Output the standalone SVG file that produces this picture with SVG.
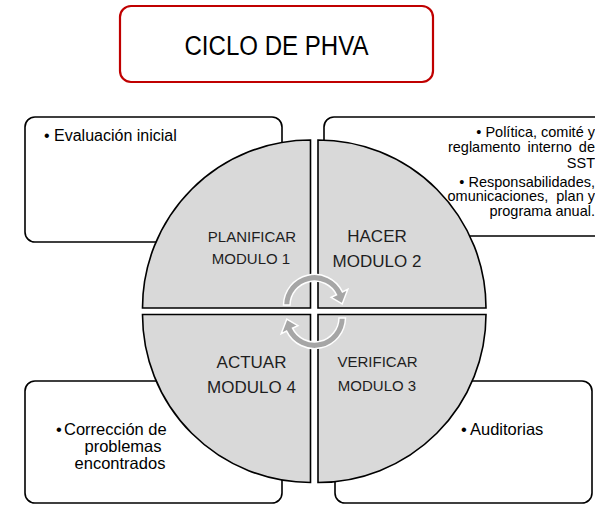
<svg xmlns="http://www.w3.org/2000/svg" width="595" height="505" viewBox="0 0 595 505">
<style>
.box{fill:#fff;stroke:#000;stroke-width:1.6}
.q{fill:#d9d9d9;stroke:#000;stroke-width:1.6;stroke-linejoin:miter}
.t{font-family:"Liberation Sans",Arial,sans-serif;fill:#000}
.lbl{font-family:"Liberation Sans",Arial,sans-serif;fill:#1e1e1e;text-anchor:middle}
.arr{fill:#a6a6a6;stroke:#fff;stroke-width:1.5;stroke-linejoin:miter}
</style>
<rect width="595" height="505" fill="#fff"/>
<g id="title">
<rect x="120" y="6" width="313" height="76" rx="11" fill="#fff" stroke="#c00000" stroke-width="2.2"/>
<text x="276.5" y="55" class="t" font-size="27" text-anchor="middle" textLength="184" lengthAdjust="spacingAndGlyphs">CICLO DE PHVA</text>
</g>
<g id="box-planificar">
<rect class="box" x="25" y="117" width="257" height="125" rx="10"/>
<text class="t" x="44" y="141" font-size="16">• Evaluación inicial</text>
</g>
<g id="box-hacer">
<rect class="box" x="324" y="117" width="290" height="119" rx="10"/>
<g class="t" font-size="14.5" text-anchor="end">
<text x="595" y="137">• Política, comité y</text>
<text x="595" y="151.5" word-spacing="3">reglamento interno de</text>
<text x="595" y="167.5">SST</text>
<text x="595" y="186.5">• Responsabilidades,</text>
<text x="595" y="201" xml:space="preserve">omunicaciones,  plan y</text>
<text x="595" y="215.5">programa anual.</text>
</g>
</g>
<g id="box-actuar">
<rect class="box" x="25" y="381" width="257" height="122" rx="10"/>
<g class="t" font-size="16.5">
<text x="56" y="435">•<tspan x="64">Corrección de</tspan></text>
<text x="123" y="452" text-anchor="middle">problemas</text>
<text x="120" y="469" text-anchor="middle">encontrados</text>
</g>
</g>
<g id="box-verificar">
<rect class="box" x="335" y="381" width="257" height="122" rx="10"/>
<text class="t" x="461" y="435" font-size="16.5">•<tspan x="470">Auditorias</tspan></text>
</g>
<g id="planificar">
<path class="q" d="M310.5 308 L142.5 308 A168 168 0 0 1 310.5 140 Z"/>
<text class="lbl" x="252" y="242" font-size="15">PLANIFICAR</text>
<text class="lbl" x="251" y="264" font-size="15">MODULO 1</text>
</g>
<g id="hacer">
<path class="q" d="M318 308 L318 140 A168 168 0 0 1 486 308 Z"/>
<text class="lbl" x="377" y="242" font-size="17">HACER</text>
<text class="lbl" x="377" y="267" font-size="17">MODULO 2</text>
</g>
<g id="verificar">
<path class="q" d="M318 314.5 L486 314.5 A168 168 0 0 1 318 482.5 Z"/>
<text class="lbl" x="377.5" y="367" font-size="15">VERIFICAR</text>
<text class="lbl" x="377" y="391" font-size="15">MODULO 3</text>
</g>
<g id="actuar">
<path class="q" d="M310.5 314.5 L310.5 482.5 A168 168 0 0 1 142.5 314.5 Z"/>
<text class="lbl" x="251.5" y="368" font-size="17">ACTUAR</text>
<text class="lbl" x="251.5" y="393" font-size="17">MODULO 4</text>
</g>
<g id="connectors">
<path id="arrow-top" class="arr" d="M283.5 305 A31 31 0 0 1 342.4 291.9 L347.8 289.3 L342.2 304 L331.1 297.4 L336.5 294.8 A24.5 24.5 0 0 0 290 305.1 Z"/>
<path id="arrow-bottom" class="arr" transform="rotate(180 314.5 311.5)" d="M283.5 305 A31 31 0 0 1 342.4 291.9 L347.8 289.3 L342.2 304 L331.1 297.4 L336.5 294.8 A24.5 24.5 0 0 0 290 305.1 Z"/>
</g>
</svg>
